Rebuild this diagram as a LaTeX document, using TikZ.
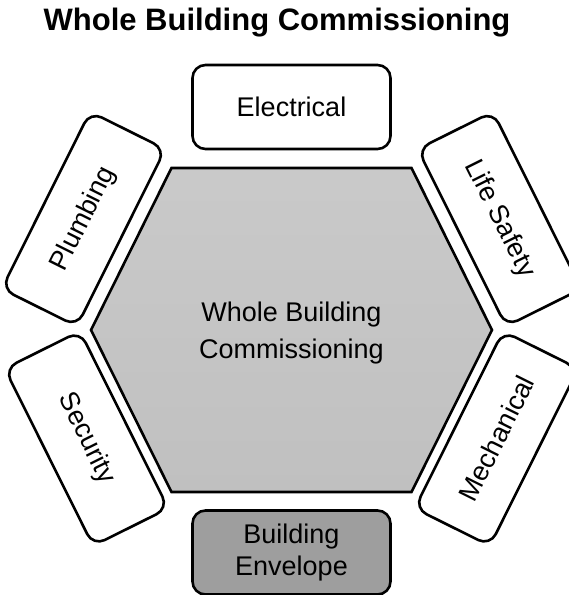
\documentclass[tikz,border=0pt]{standalone}
\usepackage{fontspec}
\setmainfont{Liberation Sans}
\definecolor{hexgray}{RGB}{192,192,192}
\definecolor{envgray}{RGB}{158,158,158}

\begin{document}
\begin{tikzpicture}[x=1pt, y=1pt,
  box/.style={draw, line width=2.6pt, rounded corners=13pt, fill=white,
    minimum width=198pt, minimum height=84pt, inner sep=0pt, align=center,
    font=\fontsize{27}{32}\selectfont}]
  \useasboundingbox (0,0) rectangle (569,595);

  % Title
  \node[anchor=base, font=\bfseries\fontsize{31}{36}\selectfont] (title) at (277,564) {Whole Building Commissioning};

  % Hexagon corners
  \coordinate (H1) at (171.5,427);
  \coordinate (H2) at (411.5,427);
  \coordinate (H3) at (492,265);
  \coordinate (H4) at (411.5,103);
  \coordinate (H5) at (171.5,103);
  \coordinate (H6) at (91,265);

  % Central hexagon
  \draw[line width=2.6pt, top color=hexgray!85, bottom color=hexgray, miter limit=10]
        (H1) -- (H2) -- (H3) -- (H4) -- (H5) -- (H6) -- cycle;
  \node[align=center, font=\fontsize{27}{37}\selectfont] (hub) at (291.5,261.5) {Whole Building\\Commissioning};

  % Disciplines around the hexagon
  \node[box] (elec) at (291.5,488) {Electrical};
  \node[box, rotate=-63.5] (life) at (499.5,376) {Life Safety};
  \node[box, rotate=63.5] (mech) at (496.5,156.5) {Mechanical};
  \node[box, fill=envgray] (envelope) at (291.5,42.5) {Building\\Envelope};
  \node[box, rotate=-63.5] (secur) at (86.5,156.5) {Security};
  \node[box, rotate=63.5] (plumb) at (83.5,376) {Plumbing};

\end{tikzpicture}
\end{document}
